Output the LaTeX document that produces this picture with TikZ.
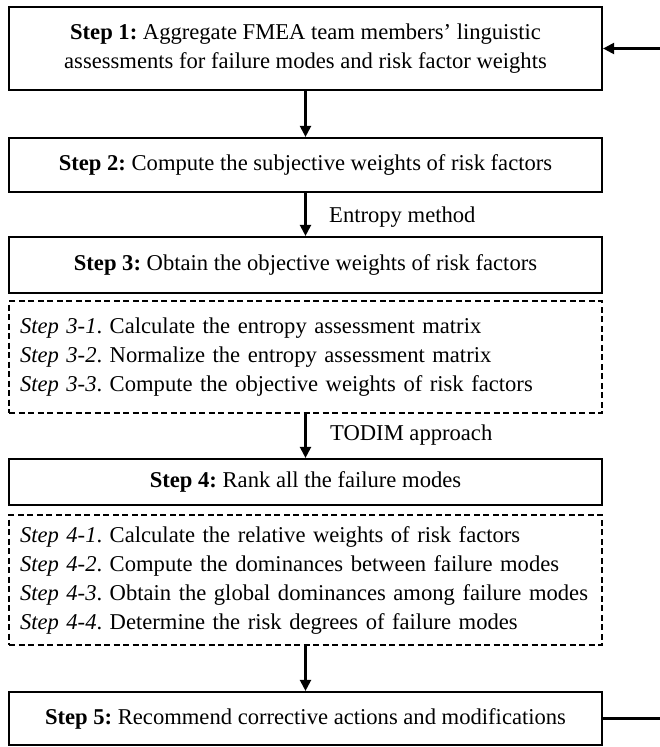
\documentclass[tikz,border=0pt]{standalone}
\usepackage{fontspec}
\setmainfont{Liberation Serif}
\usetikzlibrary{arrows.meta}
\frenchspacing

\tikzset{
  stepbox/.style={draw, line width=2.2pt, minimum width=593pt, align=center, inner sep=4pt},
  subbox/.style={draw, line width=2pt, dash pattern=on 6pt off 3.5pt, minimum width=593pt,
    text width=571pt, align=left, inner xsep=11pt, inner ysep=4pt},
  flow/.style={line width=2.2pt, -{Triangle[length=11pt,width=11pt]}},
  lbl/.style={anchor=west, inner sep=0pt}
}

\begin{document}
\begin{tikzpicture}[x=1pt,y=-1pt, every node/.style={font=\fontsize{22.6}{29}\selectfont}]
  \useasboundingbox (0,0) rectangle (660,747);
  %
  \node[stepbox, minimum height=83pt] (step1) at (305.5,48.5)
  {\textbf{Step 1:} Aggregate FMEA team members’ linguistic\\
   assessments for failure modes and risk factor weights};
  \node[stepbox, minimum height=54pt] (step2) at (305.5,165)
  {\textbf{Step 2:} Compute the subjective weights of risk factors};
  \node[stepbox, minimum height=56pt] (step3) at (305.5,265)
  {\textbf{Step 3:} Obtain the objective weights of risk factors};
  \node[subbox, minimum height=112pt] (sub3) at (305.5,357)
  {\textit{Step 3-1}. Calculate the entropy assessment matrix\\
   \textit{Step 3-2}. Normalize the entropy assessment matrix\\
   \textit{Step 3-3}. Compute the objective weights of risk factors};
  \node[stepbox, minimum height=46pt] (step4) at (305.5,482)
  {\textbf{Step 4:} Rank all the failure modes};
  \node[subbox, minimum height=130pt] (sub4) at (305.5,580)
  {\textit{Step 4-1}. Calculate the relative weights of risk factors\\
   \textit{Step 4-2}. Compute the dominances between failure modes\\
   \mbox{\textit{Step 4-3}. Obtain the global dominances among failure modes}\\
   \textit{Step 4-4}. Determine the risk degrees of failure modes};
  \node[stepbox, minimum height=53pt] (step5) at (305.5,718.5)
  {\textbf{Step 5:} Recommend corrective actions and modifications};

  % method labels
  \node[lbl] (lbl_entropy) at (329,217) {Entropy method};
  \node[lbl] (lbl_todim) at (330,435) {TODIM approach};

  \draw[flow] (step1) -- (step2);
  \draw[flow] (step2) -- (step3);
  \draw[flow] (sub3) -- (step4);
  \draw[flow] (sub4) -- (step5);

  % feedback loop
  \coordinate (edge) at (660,0);
  \draw[line width=2.2pt] (step5.east) -- (step5.east -| edge);
  \draw[flow] (step1.east -| edge) -- (step1.east);
\end{tikzpicture}
\end{document}
